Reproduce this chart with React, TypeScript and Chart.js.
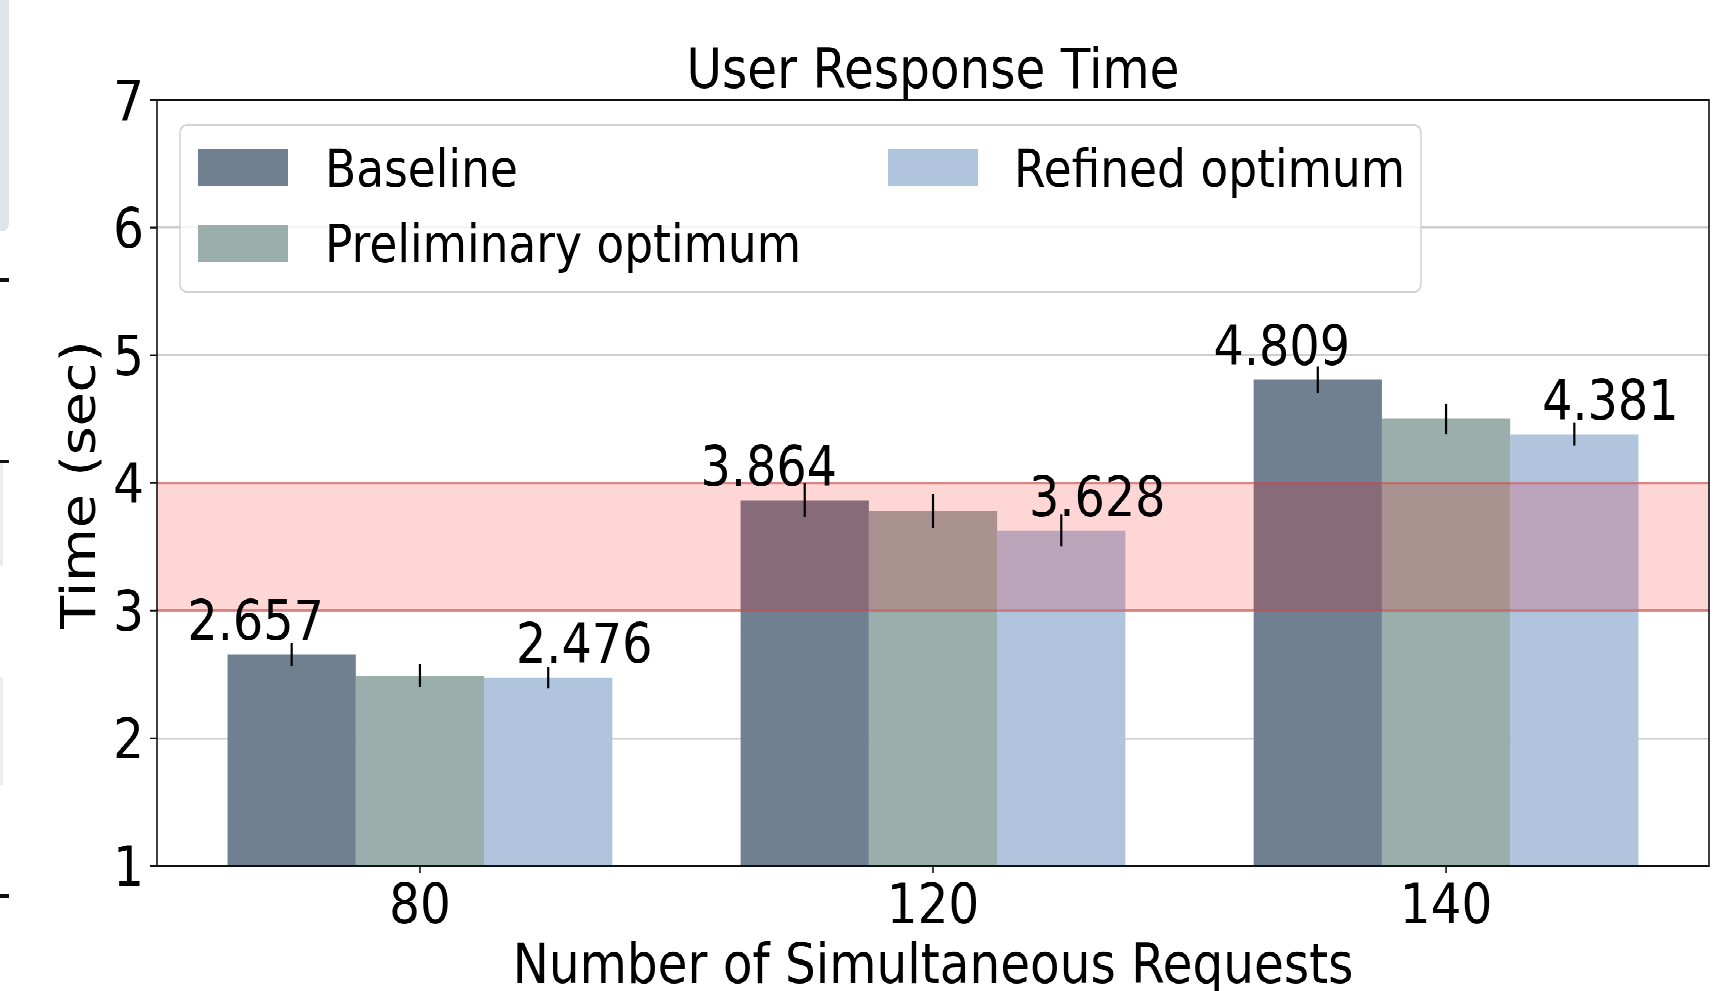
import React, { useEffect, useRef } from 'react';
import { Chart, registerables } from 'chart.js';

Chart.register(...registerables);

// ---- data ----
const categories = ['80', '120', '140'];
const seriesNames = ['Baseline', 'Preliminary optimum', 'Refined optimum'];
const baseline = [2.657, 3.864, 4.809];
const preliminary = [2.488, 3.78, 4.503];
const refined = [2.476, 3.628, 4.381];
const baselineErr = [0.09, 0.133, 0.104];
const preliminaryErr = [0.09, 0.134, 0.12];
const refinedErr = [0.084, 0.124, 0.09];
const yTickValues = [1, 2, 3, 4, 5, 6, 7];
const bandRange = [3, 4];
const chartTitle = 'User Response Time';
const xTitle = 'Number of Simultaneous Requests';
const yTitle = 'Time (sec)';

// ---- style ----
const colors = ['#708090', '#9AAEAC', '#B0C4DE'];
const labelOffsets = [-36, null, 36];
const FONT = '"DejaVu Sans", "Liberation Sans", sans-serif';
const W = 1723;
const H = 862;
const STRETCH = 991 / 862;

function txt(ctx: CanvasRenderingContext2D, s: string, x: number, y: number, size: number, align: CanvasTextAlign = 'center', rot = 0) {
  ctx.save();
  ctx.font = `${size}px ${FONT}`;
  ctx.fillStyle = '#000';
  ctx.textAlign = align;
  ctx.textBaseline = 'alphabetic';
  ctx.translate(x, y);
  if (rot) ctx.rotate(rot);
  ctx.fillText(s, 0, 0);
  ctx.restore();
}

function rr(ctx: CanvasRenderingContext2D, x0: number, y0: number, x1: number, y1: number, r: number) {
  ctx.beginPath();
  ctx.moveTo(x0 + r, y0);
  ctx.lineTo(x1 - r, y0);
  ctx.quadraticCurveTo(x1, y0, x1, y0 + r);
  ctx.lineTo(x1, y1 - r);
  ctx.quadraticCurveTo(x1, y1, x1 - r, y1);
  ctx.lineTo(x0 + r, y1);
  ctx.quadraticCurveTo(x0, y1, x0, y1 - r);
  ctx.lineTo(x0, y0 + r);
  ctx.quadraticCurveTo(x0, y0, x0 + r, y0);
  ctx.closePath();
}

export default function App() {
  const ref = useRef<HTMLCanvasElement | null>(null);

  useEffect(() => {
    document.body.style.margin = '0';
    const canvas = ref.current;
    if (!canvas) return;

    const seriesVals = [baseline, preliminary, refined];
    const seriesErrs = [baselineErr, preliminaryErr, refinedErr];

    const backgroundPlugin = {
      id: 'bgArtifacts',
      beforeDraw(chart: any) {
        const ctx = chart.ctx;
        ctx.save();
        ctx.fillStyle = '#ffffff';
        ctx.fillRect(0, 0, W, H);
        // cropped neighbouring-figure remnants at the left edge
        ctx.fillStyle = '#dfe6e9';
        rr(ctx, -20, -20, 9, 201, 8);
        ctx.fill();
        ctx.fillStyle = '#e8eef0';
        ctx.fillRect(0, 402, 3, 90);
        ctx.fillRect(0, 590, 3, 93);
        ctx.fillStyle = '#111';
        ctx.fillRect(0, 242, 9, 3);
        ctx.fillRect(0, 400, 9, 3);
        ctx.fillRect(0, 778, 9, 3);
        ctx.restore();
      },
    };

    const bandPlugin = {
      id: 'band',
      afterDatasetsDraw(chart: any) {
        const ctx = chart.ctx;
        const a = chart.chartArea;
        const ys = chart.scales.y;
        const yTop = ys.getPixelForValue(bandRange[1]);
        const yBot = ys.getPixelForValue(bandRange[0]);
        ctx.save();
        ctx.fillStyle = 'rgba(255,0,0,0.16)';
        ctx.fillRect(a.left, yTop, a.right - a.left, yBot - yTop);
        ctx.strokeStyle = 'rgba(225,60,60,0.5)';
        ctx.lineWidth = 2;
        ctx.beginPath();
        ctx.moveTo(a.left, yTop);
        ctx.lineTo(a.right, yTop);
        ctx.moveTo(a.left, yBot);
        ctx.lineTo(a.right, yBot);
        ctx.stroke();
        ctx.restore();
      },
    };

    const overlayPlugin = {
      id: 'overlay',
      afterDraw(chart: any) {
        const ctx = chart.ctx;
        const a = chart.chartArea;
        const xs = chart.scales.x;
        const ys = chart.scales.y;

        // error bars + value labels
        chart.data.datasets.forEach((ds: any, d: number) => {
          const meta = chart.getDatasetMeta(d);
          meta.data.forEach((el: any, i: number) => {
            const v = seriesVals[d][i];
            const e = seriesErrs[d][i];
            ctx.save();
            ctx.strokeStyle = '#000';
            ctx.lineWidth = 2.2;
            ctx.beginPath();
            ctx.moveTo(el.x, ys.getPixelForValue(v + e));
            ctx.lineTo(el.x, ys.getPixelForValue(v - e));
            ctx.stroke();
            ctx.restore();
            const off = labelOffsets[d];
            if (off !== null) {
              txt(ctx, v.toFixed(3), el.x + off, ys.getPixelForValue(v) - 12.6, 47.7, 'center');
            }
          });
        });

        // spines
        ctx.save();
        ctx.strokeStyle = '#111';
        ctx.lineWidth = 1.6;
        ctx.strokeRect(a.left, a.top, a.right - a.left, a.bottom - a.top);
        // tick marks
        ctx.beginPath();
        yTickValues.forEach((t) => {
          const y = ys.getPixelForValue(t);
          ctx.moveTo(a.left - 7, y);
          ctx.lineTo(a.left, y);
        });
        categories.forEach((_, i) => {
          const x = xs.getPixelForValue(i);
          ctx.moveTo(x, a.bottom);
          ctx.lineTo(x, a.bottom + 6);
        });
        ctx.stroke();
        ctx.restore();

        // tick labels
        yTickValues.forEach((t) => {
          txt(ctx, String(t), 144, ys.getPixelForValue(t) + 17.5, 48.5, 'right');
        });
        categories.forEach((c, i) => {
          txt(ctx, c, xs.getPixelForValue(i), 802.8, 48.5, 'center');
        });

        // titles
        txt(ctx, chartTitle, (a.left + a.right) / 2, 76.5, 48.5, 'center');
        txt(ctx, xTitle, (a.left + a.right) / 2, 855, 48.5, 'center');
        txt(ctx, yTitle, 95, 421.8, 48, 'center', -Math.PI / 2);

        // legend (2 columns)
        ctx.save();
        rr(ctx, 180, 108.7, 1421, 254, 8);
        ctx.fillStyle = 'rgba(255,255,255,0.8)';
        ctx.fill();
        ctx.strokeStyle = '#d2d2d2';
        ctx.lineWidth = 1.5;
        ctx.stroke();
        ctx.restore();
        const slots = [
          { sx: 198, sy: 129.6, tx: 325, ty: 162.5 },
          { sx: 198, sy: 195.7, tx: 325, ty: 228 },
          { sx: 888, sy: 129.6, tx: 1014, ty: 162.5 },
        ];
        chart.data.datasets.forEach((ds: any, d: number) => {
          const s = slots[d];
          ctx.save();
          ctx.fillStyle = ds.backgroundColor;
          ctx.fillRect(s.sx, s.sy, 90, 32);
          ctx.restore();
          txt(ctx, ds.label, s.tx, s.ty, 45.5, 'left');
        });
      },
    };

    const chart = new Chart(canvas, {
      type: 'bar',
      data: {
        datasets: seriesNames.map((name, d) => ({
          label: name,
          data: categories.map((_, i) => ({ x: i, y: seriesVals[d][i] })),
          backgroundColor: colors[d],
          borderWidth: 0,
          categoryPercentage: 0.75,
          barPercentage: 1,
        })),
      },
      options: {
        animation: false,
        responsive: false,
        devicePixelRatio: 2,
        layout: { padding: { left: 157, right: 14, top: 87, bottom: 108.8 } },
        scales: {
          x: {
            type: 'linear',
            min: -0.5125,
            max: 2.5125,
            offset: false,
            display: false,
            afterBuildTicks: (s: any) => {
              s.ticks = categories.map((_, i) => ({ value: i }));
            },
          },
          y: {
            type: 'linear',
            min: 1,
            max: 7,
            z: 1,
            ticks: { display: false, stepSize: 1 },
            border: { display: false },
            grid: { color: 'rgba(165,165,165,0.55)', lineWidth: 1.8, drawTicks: false },
            afterFit: (s: any) => {
              s.width = 0;
            },
          },
        },
        plugins: {
          legend: { display: false },
          title: { display: false },
          tooltip: { enabled: false },
        },
      } as any,
      plugins: [backgroundPlugin, bandPlugin, overlayPlugin],
    });

    return () => chart.destroy();
  }, []);

  return (
    <div
      style={{
        position: 'fixed',
        left: 0,
        top: 0,
        width: W,
        height: H,
        transform: `scaleY(${STRETCH})`,
        transformOrigin: '0 0',
        background: '#fff',
      }}
    >
      <canvas ref={ref} width={W} height={H} style={{ width: W, height: H, display: 'block' }} />
    </div>
  );
}
